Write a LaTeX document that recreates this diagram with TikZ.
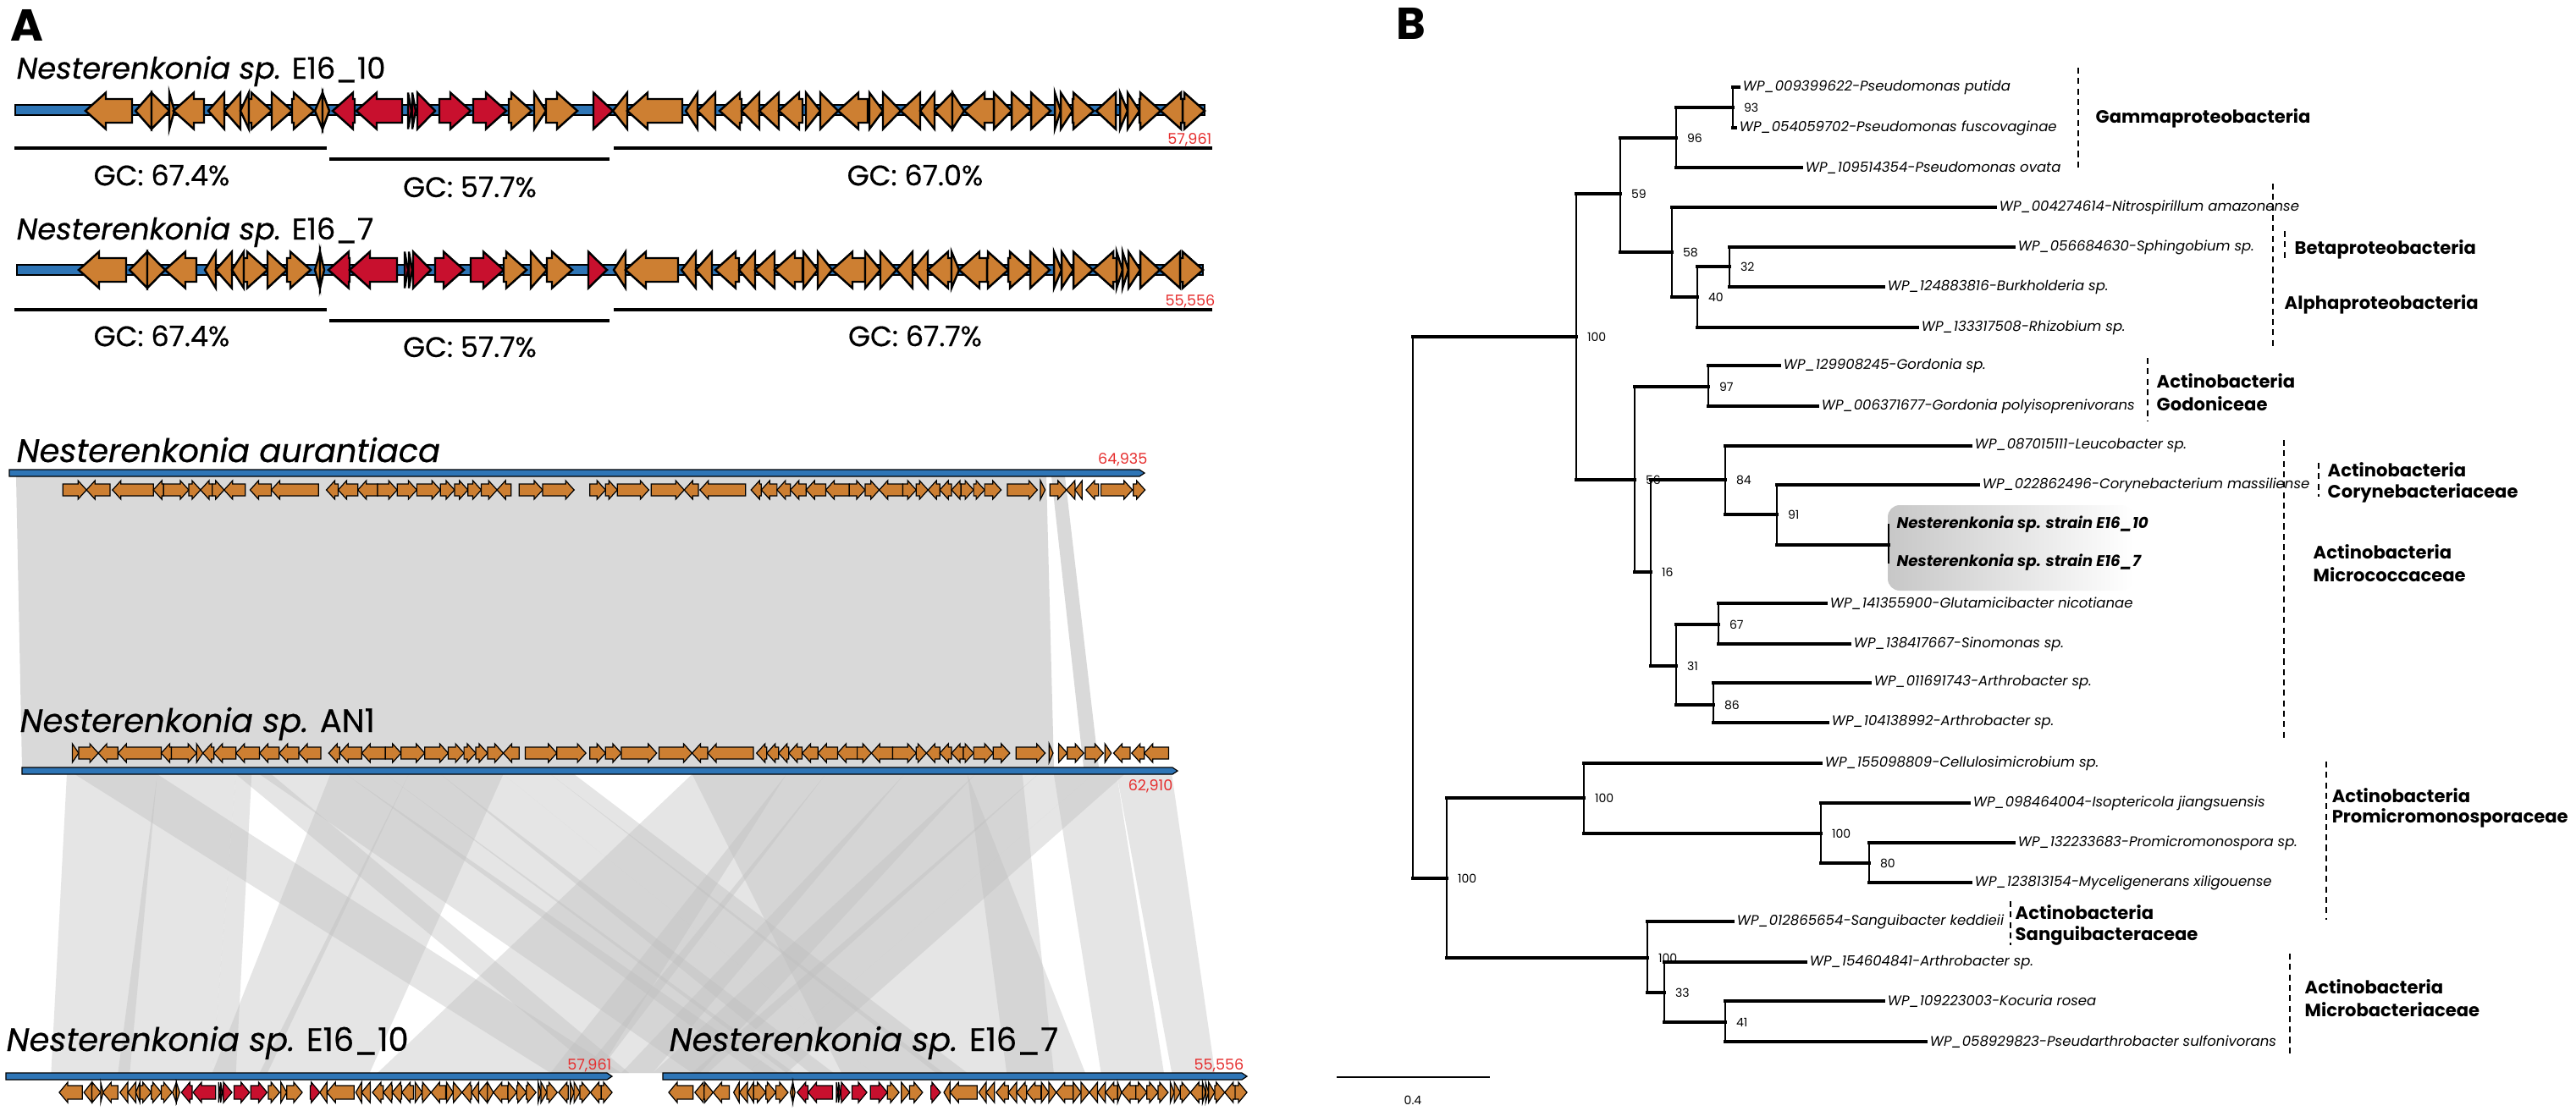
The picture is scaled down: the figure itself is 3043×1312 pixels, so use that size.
\documentclass[tikz,border=0pt]{standalone}
\usepackage{fontspec}
\setmainfont{Poppins}
\newfontfamily\pmed{Poppins}[FakeBold=0.5]
\definecolor{cO}{RGB}{205,127,50}
\definecolor{cR}{RGB}{200,16,46}
\definecolor{gblue}{RGB}{46,117,182}
\definecolor{numred}{RGB}{230,45,45}
\definecolor{blockgray}{RGB}{217,217,217}
\newcommand\fTitle{\pmed\fontsize{10}{12}\selectfont}
\newcommand\fTitleB{\pmed\fontsize{10.9}{13}\selectfont}
\newcommand\fGC{\pmed\fontsize{9.5}{11}\selectfont}
\newcommand\fNum{\fontsize{5}{6}\selectfont}
\newcommand\fLeaf{\fontsize{4.7}{6}\selectfont\itshape}
\newcommand\fBS{\fontsize{4}{5}\selectfont}
\newcommand\fClade{\fontsize{6.0}{8}\selectfont\bfseries}
\newcommand\fPanel{\fontsize{15}{18}\selectfont\bfseries}
% gene rows: #1 yc, #2 half head, #3 half body, #4 head length, #5 line width, #6 x0, #7 a, #8 k, #9 list macro
\newcommand\genes[9]{%
 \foreach \xa/\xb/\dd/\cc in #9 {%
  \pgfmathsetmacro\xA{#7+(\xa-#6)*#8}%
  \pgfmathsetmacro\xB{#7+(\xb-#6)*#8}%
  \pgfmathsetmacro\hl{min(#4,\xB-\xA)}%
  \ifnum\dd=1
   \filldraw[fill=\cc,line width=#5,line join=miter] (\xA,#1-#3) -- (\xB-\hl,#1-#3) -- (\xB-\hl,#1-#2) -- (\xB,#1) -- (\xB-\hl,#1+#2) -- (\xB-\hl,#1+#3) -- (\xA,#1+#3) -- cycle;
  \else
   \filldraw[fill=\cc,line width=#5,line join=miter] (\xB,#1-#3) -- (\xA+\hl,#1-#3) -- (\xA+\hl,#1-#2) -- (\xA,#1) -- (\xA+\hl,#1+#2) -- (\xA+\hl,#1+#3) -- (\xB,#1+#3) -- cycle;
  \fi
 }}
\newcommand\bands[4]{%
 \foreach \ta/\tb/\ba/\bb in #4 {%
  \fill[band] (\ta*#3,#1) -- (\tb*#3,#1) -- (\bb*#3,#2) -- (\ba*#3,#2) -- cycle;
 }}
\newcommand\clade[3]{%
 \draw[vbr] (#1 |- #2) -- (#1 |- #3);
 \draw[hbr] (#1 |- #2) -- (#2);
 \draw[hbr] (#1 |- #3) -- (#3);}
\def\listA{101/156/0/cO,160/179/0/cO,179/200/1/cO,200/206/1/cO,205/241/0/cO,246/265/0/cO,265/284/0/cO,284/294/0/cO,294/321/1/cO,321/345/1/cO,345/371/1/cO,372/381/0/cO,381/389/1/cO,393/419/0/cR,421/475/0/cR,482/486/1/cR,487/491/1/cR,493/514/1/cR,519/556/1/cR,559/598/1/cR,601/628/1/cO,631/645/1/cO,645/682/1/cO,701/724/1/cR,724/741/0/cO,741/806/0/cO,810/824/0/cO,824/845/0/cO,850/876/0/cO,876/897/0/cO,897/920/0/cO,920/948/0/cO,952/969/1/cO,969/990/1/cO,990/1025/0/cO,1027/1043/1/cO,1043/1064/1/cO,1064/1087/0/cO,1087/1104/0/cO,1104/1125/0/cO,1125/1139/1/cO,1139/1174/0/cO,1174/1195/1/cO,1195/1218/1/cO,1218/1241/1/cO,1246/1253/1/cO,1253/1267/1/cO,1267/1292/1/cO,1295/1318/0/cO,1323/1332/1/cO,1332/1346/1/cO,1346/1371/1/cO,1371/1397/0/cO,1397/1423/1/cO}
\def\listB{93/149/0/cO,153/174/0/cO,174/195/1/cO,195/232/0/cO,242/255/0/cO,255/274/0/cO,274/288/0/cO,288/316/1/cO,316/339/1/cO,339/367/1/cO,372/378/0/cO,378/383/1/cO,388/413/0/cR,413/469/0/cR,478/482/1/cR,483/487/1/cR,488/509/1/cR,514/548/1/cR,556/595/1/cR,595/622/1/cO,627/646/1/cO,646/676/1/cO,695/717/1/cR,725/739/0/cO,739/801/0/cO,805/822/0/cO,822/841/0/cO,845/873/0/cO,873/892/0/cO,892/915/0/cO,915/948/0/cO,949/966/1/cO,966/983/1/cO,983/1022/0/cO,1022/1040/1/cO,1040/1059/1/cO,1059/1078/0/cO,1078/1096/0/cO,1096/1124/0/cO,1124/1133/1/cO,1133/1166/0/cO,1166/1191/1/cO,1191/1217/1/cO,1217/1240/1/cO,1245/1254/1/cO,1254/1268/1/cO,1268/1291/1/cO,1291/1319/0/cO,1319/1326/1/cO,1326/1333/1/cO,1333/1347/1/cO,1347/1370/1/cO,1370/1394/0/cO,1394/1421/1/cO}
\def\listAur{80/110/1/cO,110/140/0/cO,143/195/0/cO,195/208/0/cO,208/240/1/cO,240/255/1/cO,255/270/0/cO,270/285/1/cO,285/312/0/cO,318/345/0/cO,345/405/0/cO,415/430/0/cO,430/455/0/cO,455/480/0/cO,480/505/1/cO,505/530/1/cO,530/560/1/cO,560/578/1/cO,578/595/1/cO,595/612/1/cO,612/632/1/cO,632/650/0/cO,660/690/1/cO,690/730/1/cO,750/770/1/cO,770/785/1/cO,785/825/1/cO,828/870/1/cO,870/888/0/cO,890/948/0/cO,955/968/0/cO,968/988/0/cO,988/1005/0/cO,1005/1025/0/cO,1025/1050/0/cO,1050/1080/0/cO,1080/1100/1/cO,1100/1118/1/cO,1118/1148/0/cO,1148/1165/1/cO,1165/1180/1/cO,1180/1195/0/cO,1195/1210/0/cO,1210/1222/0/cO,1222/1238/1/cO,1238/1252/1/cO,1252/1273/1/cO,1281/1319/1/cO,1323/1329/1/cO,1335/1356/1/cO,1356/1367/0/cO,1367/1376/0/cO,1381/1397/0/cO,1400/1440/1/cO,1441/1456/1/cO}
\def\listAN{92/100/1/cO,100/125/1/cO,125/150/0/cO,150/205/0/cO,205/218/0/cO,218/250/1/cO,250/258/1/cO,258/272/0/cO,272/300/0/cO,300/330/0/cO,330/355/0/cO,355/380/0/cO,380/408/0/cO,418/432/0/cO,432/460/0/cO,460/490/0/cO,490/510/1/cO,510/540/1/cO,540/570/1/cO,570/590/1/cO,590/605/1/cO,605/620/1/cO,620/640/1/cO,640/660/0/cO,668/708/1/cO,708/745/1/cO,750/770/1/cO,770/790/1/cO,790/835/1/cO,838/880/1/cO,880/900/0/cO,900/958/0/cO,962/975/0/cO,975/990/0/cO,990/1003/0/cO,1003/1020/0/cO,1020/1040/0/cO,1040/1065/0/cO,1065/1090/0/cO,1090/1108/1/cO,1108/1135/0/cO,1135/1165/1/cO,1165/1178/1/cO,1178/1195/0/cO,1195/1210/0/cO,1210/1225/0/cO,1225/1238/1/cO,1238/1263/1/cO,1263/1284/1/cO,1292/1329/1/cO,1334/1339/1/cO,1346/1357/1/cO,1357/1378/1/cO,1380/1403/1/cO,1405/1413/1/cO,1416/1437/0/cO,1439/1455/0/cO,1455/1486/0/cO}
\def\listBands{85/200/65/165,200/300/150/270,300/320/270/300,95/200/700/790,300/345/760/800,330/440/880/990,440/490/960/1010,490/560/1000/1060,560/640/1030/1110,640/700/1110/1200,700/730/1190/1230,420/520/270/340,520/640/330/470,880/1000/480/760,1000/1050/700/760,1050/1150/740/830,1150/1240/790/890,1240/1320/830/900,1320/1390/880/950,1390/1430/950/1000,880/1230/1070/1380,1230/1300/1280/1340,1340/1420/1400/1480,1420/1490/1490/1545}
\tikzset{
  hbr/.style={line width=1.1pt, line cap=rect},
  vbr/.style={line width=0.75pt, line cap=rect},
  leaf/.style={anchor=west, inner sep=0pt, xshift=1.2pt, font=\fLeaf},
  bleaf/.style={anchor=west, inner sep=0pt, xshift=2.5pt, font=\fontsize{5.2}{6}\selectfont\bfseries\itshape},
  bs/.style={anchor=west, inner sep=0pt, xshift=3.5pt, font=\fBS},
  clab/.style={anchor=west, inner sep=0pt, font=\fClade},
  dashbar/.style={line width=0.35pt, dash pattern=on 2pt off 1.5pt},
  band/.style={fill=black!25, fill opacity=0.4},
  gcline/.style={line width=1.4pt},
  gclab/.style={font=\fGC, inner sep=0pt},
  ttl/.style={anchor=base west, inner sep=0pt, font=\fTitle},
  ttlb/.style={anchor=base west, inner sep=0pt, font=\fTitleB},
  num/.style={anchor=east, inner sep=0pt, font=\fNum, text=numred},
  panel/.style={font=\fPanel, inner sep=0pt},
  backbone/.style={fill=gblue, draw=black, line width=0.35pt},
}
\begin{document}
\begin{tikzpicture}[x=0.01cm,y=-0.01cm]
\useasboundingbox (0,0) rectangle (3043,1312);
\fill[white] (0,0) rectangle (3043,1312);
% ---------- Panel A ----------
\node[panel] (labA) at (32,30) {A};
\node[ttl] (t1) at (19,93) {\itshape Nesterenkonia sp.\upshape{} E16\_10};
\filldraw[backbone, line width=0.7pt] (18,124) rectangle (1423,136);
\genes{131}{21.5}{14}{24}{0.7pt}{0}{0}{1}{\listA}
\node[num] (n1) at (1432,165) {57,961};
\draw[gcline] (17,175) -- (386,175);
\draw[gcline] (389,188) -- (720,188);
\draw[gcline] (725,175) -- (1432,175);
\node[gclab] (gc1) at (191,207) {GC: 67.4\%};
\node[gclab] (gc2) at (555,221) {GC: 57.7\%};
\node[gclab] (gc3) at (1081,207) {GC: 67.0\%};
\node[ttl] (t2) at (19,283) {\itshape Nesterenkonia sp.\upshape{} E16\_7};
\filldraw[backbone, line width=0.7pt] (20,313) rectangle (1421,325);
\genes{319}{21.5}{14}{24}{0.7pt}{0}{0}{1}{\listB}
\node[num] (n2) at (1436,356) {55,556};
\draw[gcline] (17,366) -- (386,366);
\draw[gcline] (389,379) -- (720,379);
\draw[gcline] (725,366) -- (1432,366);
\node[gclab] (gc4) at (191,397) {GC: 67.4\%};
\node[gclab] (gc5) at (555,410) {GC: 57.7\%};
\node[gclab] (gc6) at (1081,397) {GC: 67.7\%};
% synteny blocks
\fill[blockgray] (19,563) -- (1236,563) -- (1245,907) -- (26,907) -- cycle;
\fill[blockgray] (1242,563) -- (1258,563) -- (1298,907) -- (1280,907) -- cycle;
\bands{915}{1268}{0.929}{\listBands}
% aurantiaca
\node[ttlb] (t3) at (19,546) {\itshape Nesterenkonia aurantiaca};
\node[num] (n3) at (1356,543) {64,935};
\filldraw[backbone] (11,555) -- (1346,555) -- (1352,559) -- (1346,563) -- (11,563) -- cycle;
\genes{579}{11}{7}{10}{0.35pt}{0}{0}{0.929}{\listAur}
% AN1
\node[ttlb] (t4) at (23,865) {\itshape Nesterenkonia sp.\upshape{} AN1};
\genes{890}{11}{7}{10}{0.35pt}{0}{0}{0.929}{\listAN}
\filldraw[backbone] (26,907) -- (1385,907) -- (1391,911) -- (1385,915) -- (26,915) -- cycle;
\node[num] (n4) at (1386,929) {62,910};
% bottom rows
\node[ttlb] (t5) at (7,1242) {\itshape Nesterenkonia sp.\upshape{} E16\_10};
\node[ttlb] (t6) at (790,1242) {\itshape Nesterenkonia sp.\upshape{} E16\_7};
\node[num] (n5) at (723,1259) {57,961};
\node[num] (n6) at (1470,1259) {55,556};
\filldraw[backbone] (7,1268) -- (717,1268) -- (723,1272) -- (717,1276) -- (7,1276) -- cycle;
\filldraw[backbone] (783,1268) -- (1467,1268) -- (1473,1272) -- (1467,1276) -- (783,1276) -- cycle;
\genes{1291}{12}{8}{10}{0.35pt}{101}{70}{0.494}{\listA}
\genes{1291}{12}{8}{10}{0.35pt}{93}{790}{0.5143}{\listB}
% ---------- Panel B ----------
\node[panel] (labB) at (1667,28) {B};
\shade[left color=black!22, right color=white, rounded corners=4pt] (2230,597) rectangle (2520,698);
\coordinate (root) at (1669,718);
\coordinate (n100a) at (1862,398);
\coordinate (n100c) at (1709,1038);
\coordinate (n59) at (1914,229);
\coordinate (n56) at (1931,567);
\coordinate (n96) at (1980,163);
\coordinate (n58) at (1975,298);
\coordinate (n93) at (2047,127);
\coordinate (tovata) at (2128,198);
\coordinate (tputida) at (2054,103);
\coordinate (tfusco) at (2050,151);
\coordinate (tnitro) at (2357,245);
\coordinate (n40) at (2005,351);
\coordinate (n32) at (2043,315);
\coordinate (trhizo) at (2265,387);
\coordinate (tsphingo) at (2379,292);
\coordinate (tburk) at (2225,339);
\coordinate (n97) at (2018,457);
\coordinate (n16) at (1950,676);
\coordinate (tgord) at (2102,432);
\coordinate (tgpoly) at (2147,480);
\coordinate (n84) at (2038,567);
\coordinate (n31) at (1980,787);
\coordinate (tleuco) at (2328,527);
\coordinate (n91) at (2099,608);
\coordinate (tcoryne) at (2337,573);
\coordinate (nE) at (2231,644);
\coordinate (tE10) at (2231,620);
\coordinate (tE7) at (2231,665);
\coordinate (n67) at (2030,738);
\coordinate (n86) at (2024,833);
\coordinate (tgluta) at (2157,713);
\coordinate (tsino) at (2185,761);
\coordinate (tarth1) at (2209,807);
\coordinate (tarth2) at (2159,854);
\coordinate (n100d) at (1871,943);
\coordinate (n100f) at (1946,1132);
\coordinate (tcellu) at (2151,902);
\coordinate (n100e) at (2151,985);
\coordinate (tisopt) at (2326,949);
\coordinate (n80) at (2208,1020);
\coordinate (tpromi) at (2379,996);
\coordinate (tmycel) at (2328,1043);
\coordinate (tsangui) at (2047,1089);
\coordinate (n33) at (1966,1173);
\coordinate (tarth3) at (2133,1137);
\coordinate (n41) at (2038,1208);
\coordinate (tkoc) at (2225,1183);
\coordinate (tpseud) at (2275,1231);
\clade{root}{n100a}{n100c}
\clade{n100a}{n59}{n56}
\clade{n59}{n96}{n58}
\clade{n96}{n93}{tovata}
\clade{n93}{tputida}{tfusco}
\clade{n58}{tnitro}{n40}
\clade{n40}{n32}{trhizo}
\clade{n32}{tsphingo}{tburk}
\clade{n56}{n97}{n16}
\clade{n97}{tgord}{tgpoly}
\clade{n16}{n84}{n31}
\clade{n84}{tleuco}{n91}
\clade{n91}{tcoryne}{nE}
\draw[vbr] (tE10) -- (tE7);
\clade{n31}{n67}{n86}
\clade{n67}{tgluta}{tsino}
\clade{n86}{tarth1}{tarth2}
\clade{n100c}{n100d}{n100f}
\clade{n100d}{tcellu}{n100e}
\clade{n100e}{tisopt}{n80}
\clade{n80}{tpromi}{tmycel}
\clade{n100f}{tsangui}{n33}
\clade{n33}{tarth3}{n41}
\clade{n41}{tkoc}{tpseud}
% bootstrap values
\node[bs] (b93) at (n93) {93};
\node[bs] (b96) at (n96) {96};
\node[bs] (b59) at (n59) {59};
\node[bs] (b58) at (n58) {58};
\node[bs] (b40) at (n40) {40};
\node[bs] (b32) at (n32) {32};
\node[bs] (b100a) at (n100a) {100};
\node[bs] (b97) at (n97) {97};
\node[bs] (b56) at (n56) {56};
\node[bs] (b16) at (n16) {16};
\node[bs] (b84) at (n84) {84};
\node[bs] (b91) at (n91) {91};
\node[bs] (b31) at (n31) {31};
\node[bs] (b67) at (n67) {67};
\node[bs] (b86) at (n86) {86};
\node[bs] (b100c) at (n100c) {100};
\node[bs] (b100d) at (n100d) {100};
\node[bs] (b100e) at (n100e) {100};
\node[bs] (b80) at (n80) {80};
\node[bs] (b100f) at (n100f) {100};
\node[bs] (b33) at (n33) {33};
\node[bs] (b41) at (n41) {41};
% leaf labels
\node[leaf] (Lputida) at (tputida) {WP\_009399622-Pseudomonas putida};
\node[leaf] (Lfusco) at (tfusco) {WP\_054059702-Pseudomonas fuscovaginae};
\node[leaf] (Lovata) at (tovata) {WP\_109514354-Pseudomonas ovata};
\node[leaf] (Lnitro) at (tnitro) {WP\_004274614-Nitrospirillum amazonense};
\node[leaf] (Lsphingo) at (tsphingo) {WP\_056684630-Sphingobium sp.};
\node[leaf] (Lburk) at (tburk) {WP\_124883816-Burkholderia sp.};
\node[leaf] (Lrhizo) at (trhizo) {WP\_133317508-Rhizobium sp.};
\node[leaf] (Lgord) at (tgord) {WP\_129908245-Gordonia sp.};
\node[leaf] (Lgpoly) at (tgpoly) {WP\_006371677-Gordonia polyisoprenivorans};
\node[leaf] (Lleuco) at (tleuco) {WP\_087015111-Leucobacter sp.};
\node[leaf] (Lcoryne) at (tcoryne) {WP\_022862496-Corynebacterium massiliense};
\node[bleaf] (LE10) at (tE10) {Nesterenkonia sp. strain E16\_10};
\node[bleaf] (LE7) at (tE7) {Nesterenkonia sp. strain E16\_7};
\node[leaf] (Lgluta) at (tgluta) {WP\_141355900-Glutamicibacter nicotianae};
\node[leaf] (Lsino) at (tsino) {WP\_138417667-Sinomonas sp.};
\node[leaf] (Larth1) at (tarth1) {WP\_011691743-Arthrobacter sp.};
\node[leaf] (Larth2) at (tarth2) {WP\_104138992-Arthrobacter sp.};
\node[leaf] (Lcellu) at (tcellu) {WP\_155098809-Cellulosimicrobium sp.};
\node[leaf] (Lisopt) at (tisopt) {WP\_098464004-Isoptericola jiangsuensis};
\node[leaf] (Lpromi) at (tpromi) {WP\_132233683-Promicromonospora sp.};
\node[leaf] (Lmycel) at (tmycel) {WP\_123813154-Myceligenerans xiligouense};
\node[leaf] (Lsangui) at (tsangui) {WP\_012865654-Sanguibacter keddieii};
\node[leaf] (Larth3) at (tarth3) {WP\_154604841-Arthrobacter sp.};
\node[leaf] (Lkoc) at (tkoc) {WP\_109223003-Kocuria rosea};
\node[leaf] (Lpseud) at (tpseud) {WP\_058929823-Pseudarthrobacter sulfonivorans};
% clade bars and labels
\draw[dashbar] (2455,80) -- (2455,203);
\node[clab] (cGamma) at (2475,140) {Gammaproteobacteria};
\draw[dashbar] (2685,217) -- (2685,413);
\draw[dashbar] (2699,273) -- (2699,307);
\node[clab] (cBeta) at (2710,295) {Betaproteobacteria};
\node[clab] (cAlpha) at (2698,360) {Alphaproteobacteria};
\draw[dashbar] (2537,423) -- (2537,498);
\node[clab] (cGod1) at (2547,450) {Actinobacteria};
\node[clab] (cGod2) at (2547,477) {Godoniceae};
\draw[dashbar] (2739,547) -- (2739,587);
\node[clab] (cCor1) at (2749,555) {Actinobacteria};
\node[clab] (cCor2) at (2749,583) {Corynebacteriaceae};
\draw[dashbar] (2698,520) -- (2698,875);
\node[clab] (cMic1) at (2732,652) {Actinobacteria};
\node[clab] (cMic2) at (2732,679) {Micrococcaceae};
\draw[dashbar] (2748,900) -- (2748,1087);
\node[clab] (cPro1) at (2754,940) {Actinobacteria};
\node[clab] (cPro2) at (2754,967) {Promicromonosporaceae};
\draw[dashbar] (2375,1065) -- (2375,1117);
\node[clab] (cSan1) at (2380,1078) {Actinobacteria};
\node[clab] (cSan2) at (2380,1106) {Sanguibacteraceae};
\draw[dashbar] (2705,1127) -- (2705,1247);
\node[clab] (cMb1) at (2722,1166) {Actinobacteria};
\node[clab] (cMb2) at (2722,1193) {Microbacteriaceae};
% scale bar
\coordinate (sb1) at (1579,1273);
\coordinate (sb2) at (1760,1273);
\draw[line width=0.8pt] (sb1) -- (sb2);
\node[font=\fBS, inner sep=0pt] (sbl) at (1669,1300) {0.4};
\end{tikzpicture}
\end{document}
